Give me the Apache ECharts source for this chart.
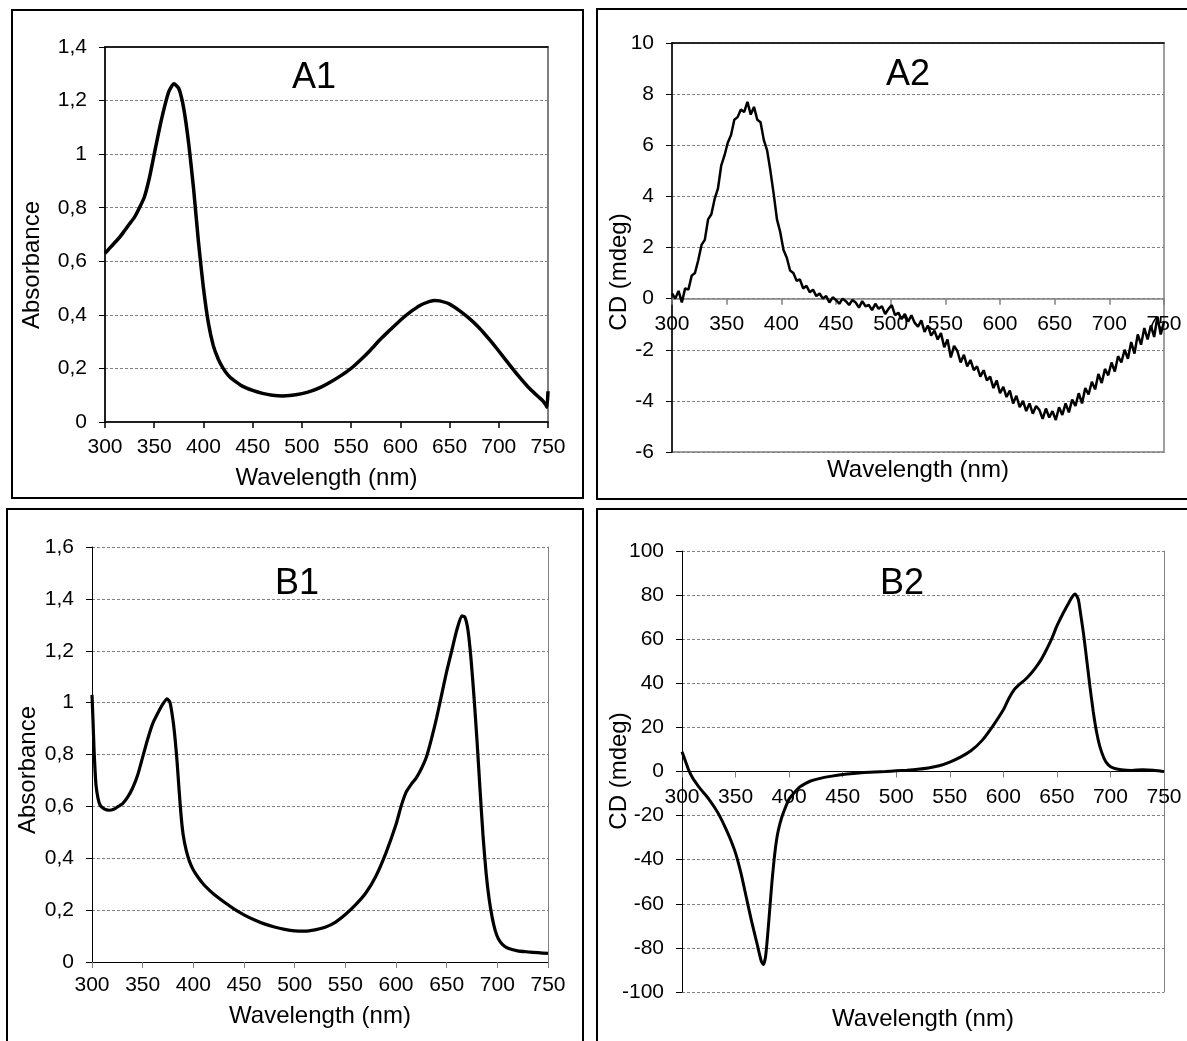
<!DOCTYPE html>
<html>
<head>
<meta charset="utf-8">
<script src="https://cdn.jsdelivr.net/npm/echarts@6/dist/echarts.min.js"></script>
<style>
html,body{margin:0;padding:0;background:#fff;}
#c{width:1187px;height:1041px;}
</style>
</head>
<body>
<div id="c"></div>
<script>
// ---- Data ----
var xTicks = [300, 350, 400, 450, 500, 550, 600, 650, 700, 750];

// A1: absorbance
var a1Wave = [300,305,310,315,320,325,330,335,340,345,350,355,360,365,370,375,380,385,390,395,400,405,410,415,420,425,430,440,450,460,470,480,490,500,510,520,530,540,550,560,570,580,590,600,610,620,630,635,640,650,660,670,680,690,700,710,720,730,740,745,748,749,750];
var a1Abs  = [0.63,0.65,0.67,0.69,0.715,0.74,0.765,0.80,0.84,0.91,1.0,1.09,1.17,1.235,1.263,1.245,1.17,1.04,0.87,0.67,0.50,0.37,0.285,0.235,0.20,0.175,0.158,0.133,0.118,0.107,0.10,0.097,0.10,0.106,0.116,0.131,0.151,0.174,0.20,0.233,0.27,0.31,0.345,0.38,0.41,0.435,0.45,0.454,0.452,0.44,0.416,0.387,0.352,0.31,0.265,0.218,0.172,0.13,0.095,0.078,0.062,0.055,0.115];

// A2: CD (mdeg), noisy spectrum
var a2Wave = [300,303,306,309,312,315,318,321,324,327,330,333,336,339,342,345,348,351,354,357,360,363,366,369,372,375,378,381,384,387,390,393,396,399,402,405,408,411,414,417,420,423,426,429,432,435,438,441,444,447,450,453,456,459,462,465,468,471,474,477,480,483,486,489,492,495,498,501,504,507,510,513,516,519,522,525,528,531,534,537,540,543,546,549,552,555,558,561,564,567,570,573,576,579,582,585,588,591,594,597,600,603,606,609,612,615,618,621,624,627,630,633,636,639,642,645,648,651,654,657,660,663,666,669,672,675,678,681,684,687,690,693,696,699,702,705,708,711,714,717,720,723,726,729,732,735,738,741,744,747,750];
var a2CD   = [0.2,0.0,0.3,-0.15,0.4,0.35,0.9,1.0,1.5,2.1,2.3,3.1,3.3,3.9,4.3,5.2,5.6,6.1,6.4,7.0,7.1,7.4,7.3,7.7,7.2,7.5,7.0,6.9,6.2,5.8,5.0,4.1,3.1,2.6,1.9,1.6,1.1,1.0,0.7,0.75,0.4,0.5,0.25,0.35,0.1,0.2,0.0,
              0.1,-0.15,0.05,-0.05,-0.2,0.0,-0.1,-0.25,-0.05,-0.15,
              -0.35,-0.1,-0.3,-0.25,-0.45,-0.2,-0.4,-0.3,-0.6,-0.4,
              -0.25,-0.65,-0.55,-0.8,-0.6,-0.9,-0.65,-0.95,-1.1,-0.85,
              -1.3,-1.05,-1.45,-1.25,-1.6,-1.35,-1.9,-1.6,-2.3,-1.85,
              -2.05,-2.5,-2.2,-2.65,-2.4,-2.8,-2.65,-3.05,-2.8,-3.2,
              -3.05,-3.5,-3.2,-3.7,-3.45,-3.85,-3.6,-4.1,-3.8,-4.25,
              -4.0,-4.4,-4.1,-4.5,-4.2,-4.35,-4.7,-4.3,-4.65,-4.4,
              -4.75,-4.25,-4.55,-4.1,-4.45,-3.95,-4.2,-3.7,-4.1,-3.5,
              -3.75,-3.25,-3.55,-2.95,-3.3,-2.75,-3.0,-2.5,-2.85,-2.25,
              -2.5,-2.0,-2.35,-1.7,-2.15,-1.4,-1.8,-1.15,-1.6,-1.05,
              -1.5,-0.7,-1.4,-0.9];

// B1: absorbance
var b1Wave = [300,301,302,303,304,306,308,312,317,322,326,330,335,340,345,350,355,360,365,370,374,377,380,382,384,386,388,390,393,396,400,405,410,415,420,430,440,450,460,470,480,490,500,510,520,530,540,550,560,570,580,590,600,605,610,615,620,625,630,635,640,645,650,655,660,665,668,671,674,677,680,683,686,689,692,695,698,701,705,710,720,730,740,750];
var b1Abs  = [1.03,0.93,0.82,0.74,0.68,0.63,0.605,0.59,0.585,0.59,0.6,0.61,0.635,0.67,0.72,0.79,0.86,0.92,0.96,0.995,1.015,1.0,0.93,0.86,0.77,0.66,0.56,0.49,0.43,0.39,0.355,0.325,0.3,0.28,0.262,0.232,0.205,0.182,0.163,0.147,0.135,0.126,0.12,0.119,0.124,0.134,0.153,0.183,0.22,0.265,0.33,0.42,0.53,0.6,0.655,0.685,0.71,0.745,0.79,0.86,0.94,1.03,1.12,1.2,1.28,1.335,1.33,1.28,1.17,1.02,0.85,0.66,0.48,0.34,0.24,0.17,0.12,0.09,0.068,0.054,0.043,0.039,0.036,0.033];

// B2: CD (mdeg)
var b2Wave = [300,303,306,310,315,320,325,330,335,340,345,350,355,360,365,370,374,376,378,380,382,384,386,388,390,393,396,400,405,410,415,420,430,440,450,460,470,480,490,500,510,520,530,540,550,560,570,580,590,600,605,610,615,620,625,630,635,640,645,650,655,660,664,667,670,672,675,678,681,684,687,690,694,698,703,710,720,730,740,745,750];
var b2CD   = [9,5,1,-3,-6.5,-9.5,-12.5,-16,-20,-25,-30.5,-37,-46,-57,-68,-78,-86,-87.5,-84,-74,-62,-50,-40,-32,-26.5,-21,-17,-12.5,-9.5,-7,-5.5,-4.3,-3,-2.1,-1.4,-0.9,-0.5,-0.2,0,0.3,0.6,1.0,1.6,2.6,4.3,6.5,9.5,14,20.5,28,33,37,39.5,41.5,44,47,50.5,55,60,66,71,75.5,79,80.5,78,72,62,50,38,27,18,11.5,6,3,1.5,0.8,0.5,0.8,0.6,0.3,0];

var panelTitles = ['A1', 'A2', 'B1', 'B2'];
var xName = 'Wavelength (nm)';
var absName = 'Absorbance';
var cdName = 'CD (mdeg)';

// y ranges
var a1Y = [0, 1.4, 0.2], a2Y = [-6, 10, 2], b1Y = [0, 1.6, 0.2], b2Y = [-100, 100, 20];

// ---- helpers ----
function pairs(xs, ys) { return xs.map(function (x, i) { return [x, ys[i]]; }); }
function commaFmt(v) { return String(Math.round(v * 10) / 10).replace('.', ','); }
var FONT = '"Liberation Sans", Arial, sans-serif';
var TICK_FS = 21, NAME_FS = 24, TITLE_FS = 36;
var gridDash = { show: true, lineStyle: { color: '#808080', width: 1, type: [3, 2] } };
var lbl = { color: '#000', fontSize: TICK_FS, fontFamily: FONT, showMinLabel: true, showMaxLabel: true };

var grids = [
  { left: 105, top: 47, width: 443, height: 375, show: true, borderColor: '#555', borderWidth: 1.5, outerBoundsMode: 'none' },
  { left: 672, top: 43, width: 492, height: 409, show: true, borderColor: '#808080', borderWidth: 1.5, outerBoundsMode: 'none' },
  { left: 92, top: 547, width: 456, height: 415, outerBoundsMode: 'none' },
  { left: 682, top: 551, width: 482, height: 441, outerBoundsMode: 'none' }
];
// offset that moves a bottom axis up to the y=0 line of its grid
function zeroOffset(g, yr) { return -grids[g].height * (0 - yr[0]) / (yr[1] - yr[0]); }

function bottomX(grid, opts) {
  return Object.assign({
    type: 'value', gridIndex: grid, min: 300, max: 750, interval: 50, position: 'bottom',
    splitLine: { show: false },
    name: xName, nameLocation: 'middle',
    nameTextStyle: { color: '#000', fontSize: NAME_FS, fontFamily: FONT }
  }, opts);
}
function topX(grid, color, w) {
  return { type: 'value', gridIndex: grid, min: 300, max: 750, interval: 50, position: 'top',
    axisLine: { show: true, onZero: false, lineStyle: { color: color, width: w } },
    axisTick: { show: false }, axisLabel: { show: false }, splitLine: { show: false } };
}
function leftY(grid, yr, fmt, lw) {
  return {
    type: 'value', gridIndex: grid, min: yr[0], max: yr[1], interval: yr[2], position: 'left',
    axisLine: { show: true, onZero: false, lineStyle: { color: '#000', width: lw } },
    axisTick: { show: true, inside: false, length: 6, lineStyle: { color: '#000', width: 1 } },
    axisLabel: Object.assign({ margin: 18, formatter: fmt }, lbl),
    splitLine: gridDash
  };
}
function rightY(grid, yr, color, w) {
  return { type: 'value', gridIndex: grid, min: yr[0], max: yr[1], position: 'right',
    axisLine: { show: true, onZero: false, lineStyle: { color: color, width: w } },
    axisTick: { show: false }, axisLabel: { show: false }, splitLine: { show: false } };
}
var plainFmt = function (v) { return String(v); };

var option = {
  backgroundColor: '#fff',
  animation: false,
  textStyle: { fontFamily: FONT },
  grid: grids,
  xAxis: [
    // 0: A1 bottom
    bottomX(0, { nameGap: 44,
      axisLine: { show: true, onZero: false, lineStyle: { color: '#000', width: 1.5 } },
      axisTick: { show: true, inside: false, length: 6, lineStyle: { color: '#000', width: 1.5 } },
      axisLabel: Object.assign({ margin: 15 }, lbl) }),
    // 1: A2 axis on the zero line
    bottomX(1, { nameGap: 160, offset: zeroOffset(1, a2Y),
      axisLine: { show: true, onZero: false, lineStyle: { color: '#808080', width: 1.5 } },
      axisTick: { show: true, inside: false, length: 6, lineStyle: { color: '#808080', width: 1.5 } },
      axisLabel: Object.assign({ margin: 15 }, lbl) }),
    // 2: B1 bottom
    bottomX(2, { nameGap: 42,
      axisLine: { show: true, onZero: false, lineStyle: { color: '#000', width: 1 } },
      axisTick: { show: true, inside: false, length: 6, lineStyle: { color: '#808080', width: 1 } },
      axisLabel: Object.assign({ margin: 13 }, lbl) }),
    // 3: B2 axis on the zero line
    bottomX(3, { nameGap: 236, offset: zeroOffset(3, b2Y),
      axisLine: { show: true, onZero: false, lineStyle: { color: '#000', width: 1 } },
      axisTick: { show: true, inside: false, length: 6, lineStyle: { color: '#808080', width: 1 } },
      axisLabel: Object.assign({ margin: 15 }, lbl) }),
    // top border lines
    topX(0, '#000', 1.5),
    topX(1, '#000', 1.5)
  ],
  yAxis: [
    leftY(0, a1Y, commaFmt, 1.5),
    leftY(1, a2Y, plainFmt, 1.5),
    leftY(2, b1Y, commaFmt, 1),
    leftY(3, b2Y, plainFmt, 1),
    rightY(2, b1Y, '#808080', 1),
    rightY(3, b2Y, '#808080', 1)
  ],
  series: [
    { type: 'line', xAxisIndex: 0, yAxisIndex: 0, data: pairs(a1Wave, a1Abs), showSymbol: false, smooth: 0.2,
      lineStyle: { color: '#000', width: 3.5 }, itemStyle: { color: '#000' } },
    { type: 'line', xAxisIndex: 1, yAxisIndex: 1, data: pairs(a2Wave, a2CD), showSymbol: false,
      lineStyle: { color: '#000', width: 2.5 }, itemStyle: { color: '#000' } },
    { type: 'line', xAxisIndex: 2, yAxisIndex: 2, data: pairs(b1Wave, b1Abs), showSymbol: false, smooth: 0.2,
      lineStyle: { color: '#000', width: 3.2 }, itemStyle: { color: '#000' } },
    { type: 'line', xAxisIndex: 3, yAxisIndex: 3, data: pairs(b2Wave, b2CD), showSymbol: false, smooth: 0.2,
      lineStyle: { color: '#000', width: 3 }, itemStyle: { color: '#000' } }
  ],
  graphic: [
    // panel frames
    { type: 'rect', shape: { x: 12, y: 10, width: 571, height: 488 }, style: { fill: 'none', stroke: '#000', lineWidth: 2 }, silent: true },
    { type: 'rect', shape: { x: 597, y: 9, width: 620, height: 490 }, style: { fill: 'none', stroke: '#000', lineWidth: 2 }, silent: true },
    { type: 'rect', shape: { x: 7, y: 509, width: 576, height: 560 }, style: { fill: 'none', stroke: '#000', lineWidth: 2 }, silent: true },
    { type: 'rect', shape: { x: 597, y: 509, width: 620, height: 560 }, style: { fill: 'none', stroke: '#000', lineWidth: 2 }, silent: true },
    // panel titles
    { type: 'text', x: 314, y: 78, style: { text: panelTitles[0], font: TITLE_FS + 'px ' + FONT, fill: '#000', align: 'center', verticalAlign: 'middle' } },
    { type: 'text', x: 908, y: 75, style: { text: panelTitles[1], font: TITLE_FS + 'px ' + FONT, fill: '#000', align: 'center', verticalAlign: 'middle' } },
    { type: 'text', x: 297, y: 584, style: { text: panelTitles[2], font: TITLE_FS + 'px ' + FONT, fill: '#000', align: 'center', verticalAlign: 'middle' } },
    { type: 'text', x: 902, y: 584, style: { text: panelTitles[3], font: TITLE_FS + 'px ' + FONT, fill: '#000', align: 'center', verticalAlign: 'middle' } },
    // y-axis names
    { type: 'text', x: 32, y: 265, rotation: Math.PI / 2, style: { text: absName, font: NAME_FS + 'px ' + FONT, fill: '#000', align: 'center', verticalAlign: 'middle' } },
    { type: 'text', x: 619, y: 272, rotation: Math.PI / 2, style: { text: cdName, font: NAME_FS + 'px ' + FONT, fill: '#000', align: 'center', verticalAlign: 'middle' } },
    { type: 'text', x: 28, y: 770, rotation: Math.PI / 2, style: { text: absName, font: NAME_FS + 'px ' + FONT, fill: '#000', align: 'center', verticalAlign: 'middle' } },
    { type: 'text', x: 619, y: 771, rotation: Math.PI / 2, style: { text: cdName, font: NAME_FS + 'px ' + FONT, fill: '#000', align: 'center', verticalAlign: 'middle' } }
  ]
};

var chart = echarts.init(document.getElementById('c'), null, { renderer: 'canvas' });
chart.setOption(option);
</script>
</body>
</html>
